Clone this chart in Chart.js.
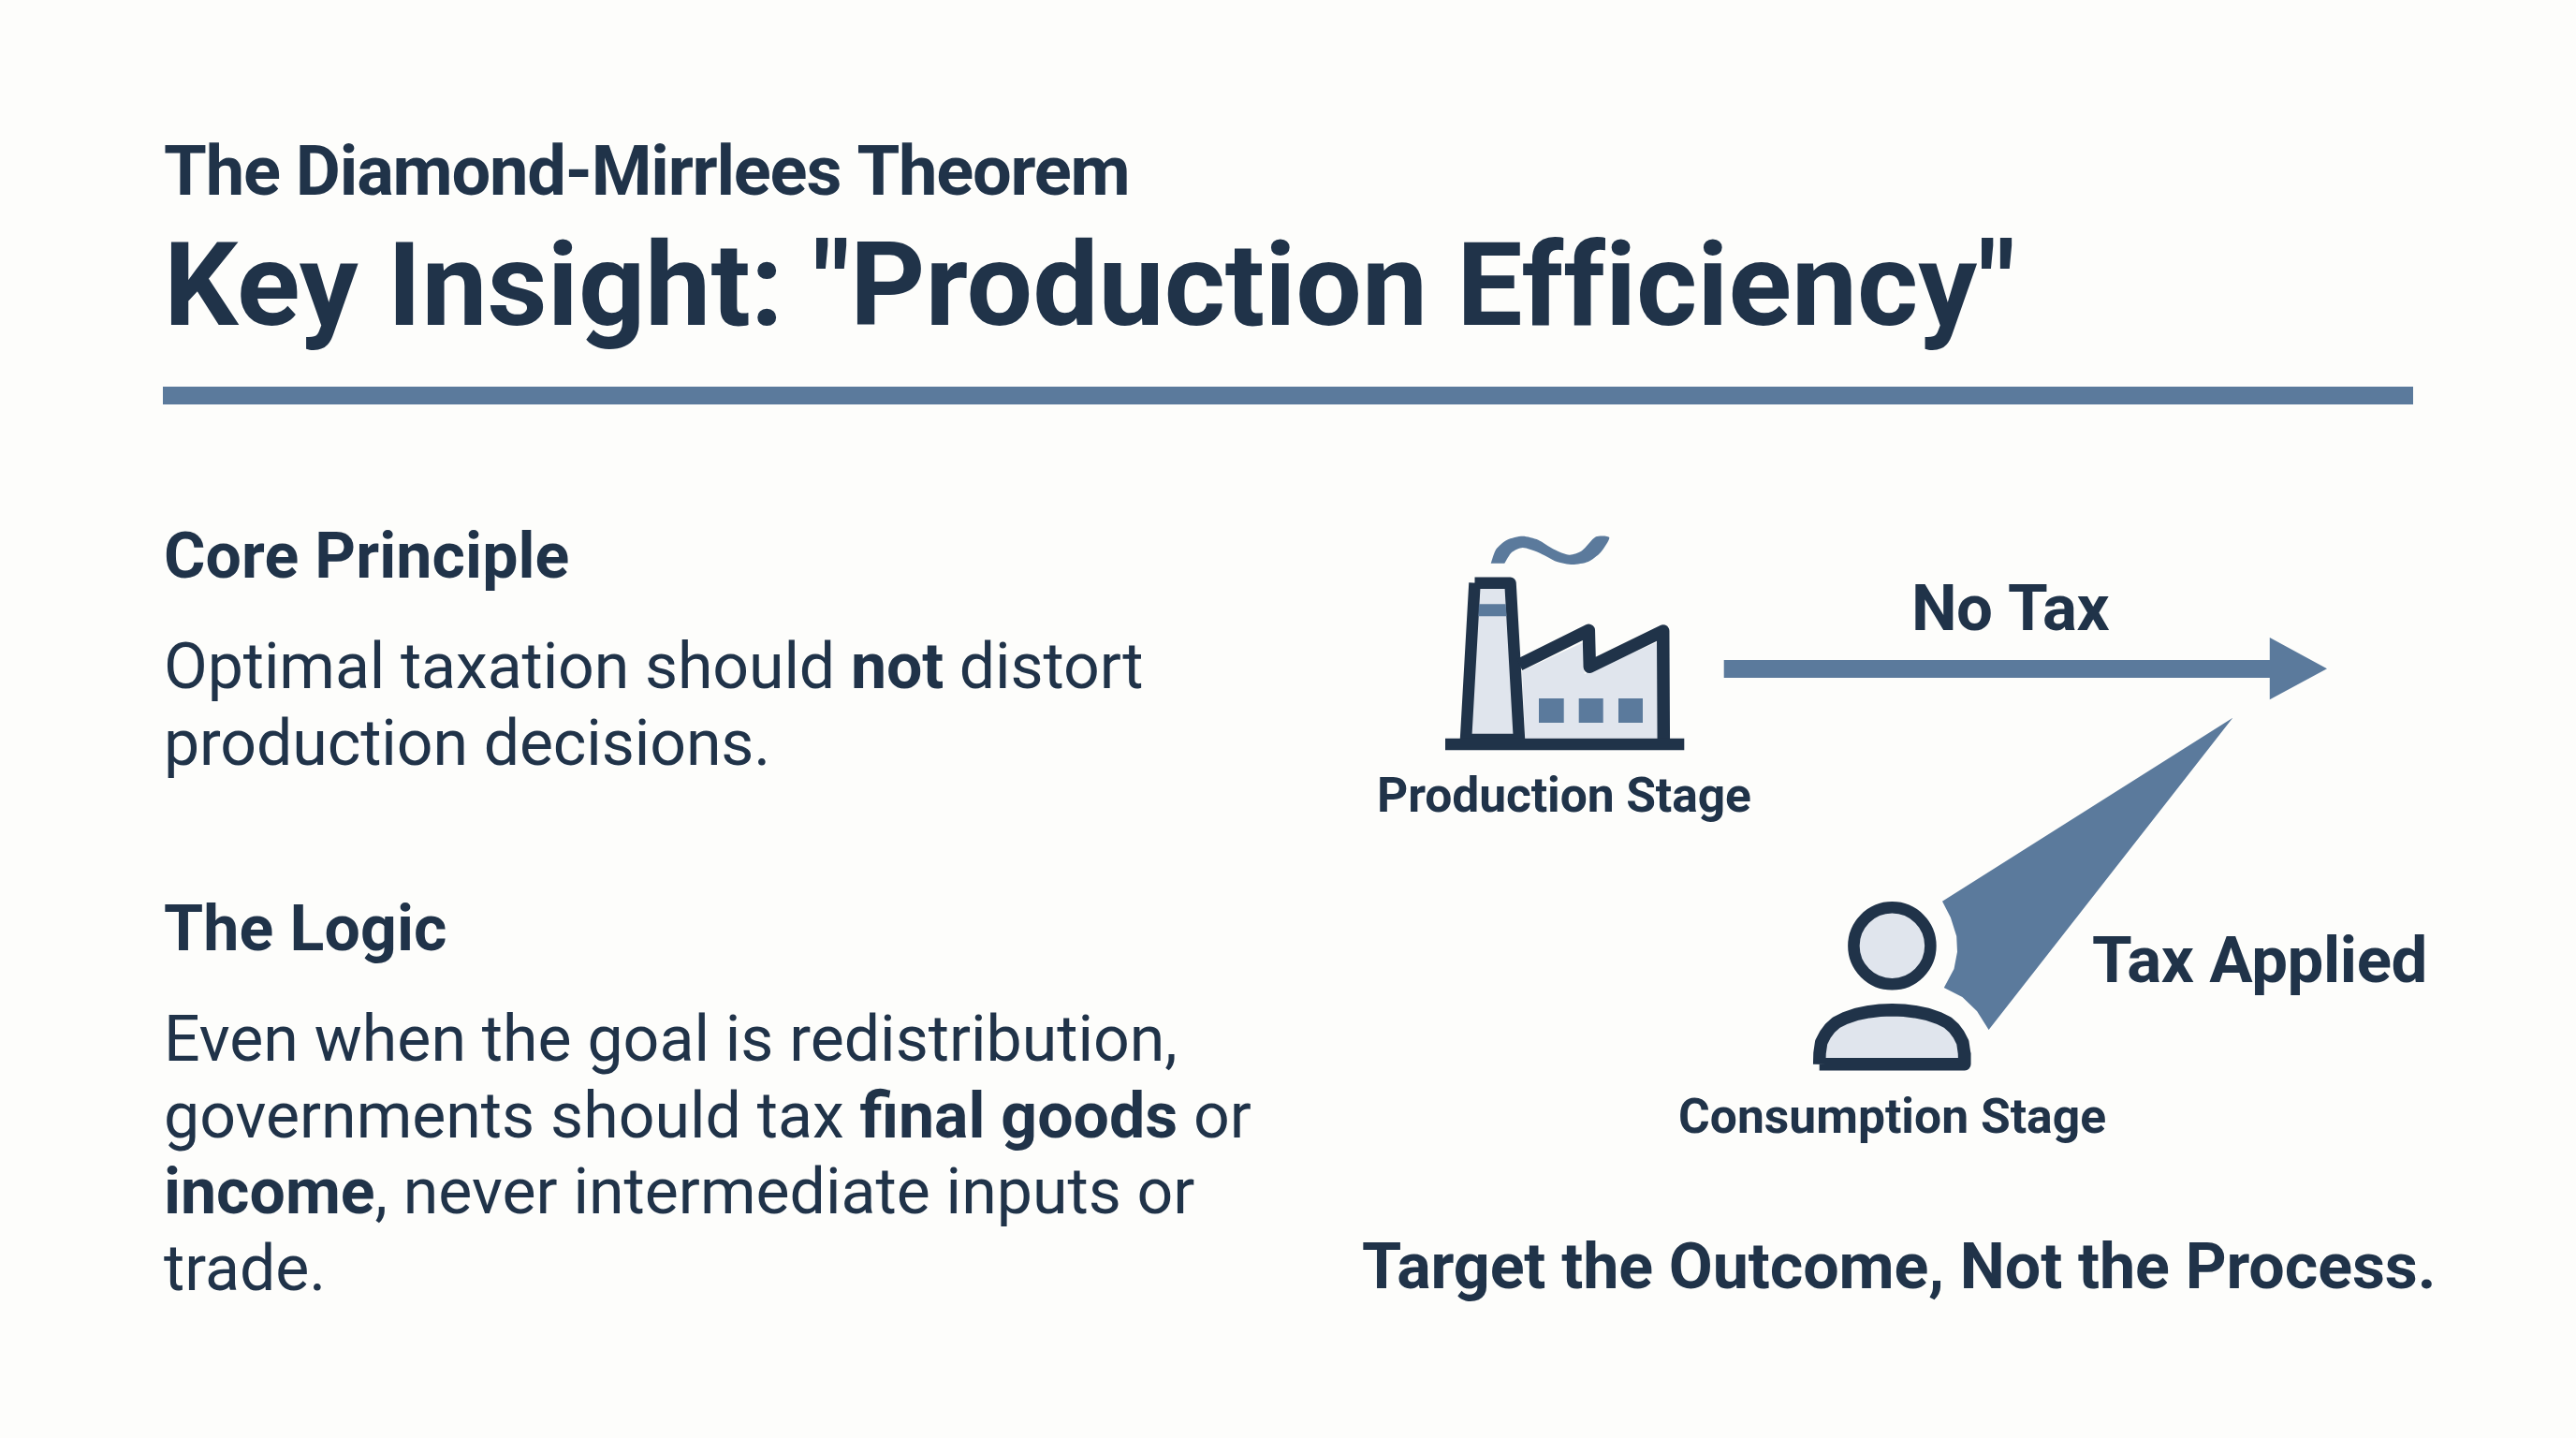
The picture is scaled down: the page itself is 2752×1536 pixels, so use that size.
<!DOCTYPE html>
<html><head><meta charset="utf-8">
<style>html,body{margin:0;padding:0;background:#fdfdfb}canvas{display:block}</style>
<script src="https://cdn.jsdelivr.net/npm/chart.js@4/dist/chart.umd.js"></script>
</head><body><div style="width:2752px;height:1536px"><canvas id="c"></canvas></div>
<script>
// text
const eyebrow = "The Diamond-Mirrlees Theorem";
const headline = 'Key Insight: "Production Efficiency"';
const sectionOne = "Core Principle";
const sectionOneLines = [[["Optimal taxation should ",0],["not",1],[" distort",0]],[["production decisions.",0]]];
const sectionTwo = "The Logic";
const sectionTwoLines = [[["Even when the goal is redistribution,",0]],[["governments should tax ",0],["final goods",1],[" or",0]],[["income",1],[", never intermediate inputs or",0]],[["trade.",0]]];
const labelProduction = "Production Stage";
const labelConsumption = "Consumption Stage";
const labelNoTax = "No Tax";
const labelTaxApplied = "Tax Applied";
const closingLine = "Target the Outcome, Not the Process.";

const DARK = "#203349", BLUE = "#5b7a9c", PALE = "#e0e5ed";

// diagram outlines
const ruleShape = [[174,413],[2578,413],[2578,432],[174,432]];
const smoke = [[1592.7,601.7],[1598.3,586.7],[1610,576.7],[1626.7,572.7],[1643.3,576.7],[1660,586.7],[1676.7,592.7],[1690,588.3],[1705,573.3],[1719.3,574],[1710,590],[1696.7,600],[1680,603],[1663.3,600],[1643.3,590],[1626.7,585],[1615,590],[1607.3,601.7]];
const chimney = [[1575.5,622.7],[1613.5,622.7],[1623,790],[1566,790],[1575.5,622.7]];
const chimneyBand = [[1580,645.3],[1608.7,645.3],[1609.5,658.3],[1579.4,658.3]];
const buildingFill = [[1626,716.7],[1691.7,686],[1692.7,720],[1770,686],[1771,788.7],[1629.3,788.7]];
const buildingRoof = [[1623.3,710],[1697.3,673.3],[1698.3,712.3],[1776.7,674],[1777.3,790]];
const windowOne = [[1644,746],[1670.7,746],[1670.7,772],[1644,772]];
const windowTwo = [[1686.7,746],[1712.7,746],[1712.7,772],[1686.7,772]];
const windowThree = [[1729,746],[1755,746],[1755,772],[1729,772]];
const factoryBase = [[1544,788.7],[1799.3,788.7],[1799.3,801.3],[1544,801.3]];
const arrowShape = [[1841.7,705],[2424.8,705],[2424.8,681],[2486,714.3],[2424.8,747.3],[2424.8,724],[1841.7,724]];
const wedge = [[2385.3,766.7],[2075,962.7],[2083.9,980],[2090.2,1000],[2091,1016.7],[2087.5,1035],[2076.8,1055],[2096.4,1065],[2112,1080],[2124.6,1100]];
const personHead = [[2021.4,1010.3]];
const personBody = [[1943.7,1136.8],[1944,1125],[1945.7,1113.3],[1950,1105],[1955,1098.3],[1961.7,1092.3],[1971.7,1087.3],[1983.3,1083.3],[1996.7,1080.7],[2008.3,1079.3],[2021.3,1078.7],[2034.2,1079.3],[2045.8,1080.7],[2059.2,1083.3],[2070.8,1087.3],[2080.8,1092.3],[2087.5,1098.3],[2092.5,1105],[2096.8,1113.3],[2098.5,1125],[2098.8,1136.8],[1943.7,1136.8]];

const pts = a => a.map(([x,y]) => ({x,y}));
const poly = (a,color,extra={}) => ({data:pts(a),showLine:true,fill:'shape',backgroundColor:color,borderColor:color,borderWidth:0,pointRadius:0,tension:0,...extra});

const layers = [
  poly(ruleShape,BLUE),
  poly(smoke,BLUE,{tension:0.25}),
  poly(buildingFill,PALE),
  poly(chimney,PALE,{borderColor:DARK,borderWidth:12.5,borderJoinStyle:'round'}),
  poly(chimneyBand,BLUE),
  {data:pts(buildingRoof),showLine:true,fill:false,borderColor:DARK,borderWidth:13.5,borderJoinStyle:'round',borderCapStyle:'butt',pointRadius:0,tension:0},
  poly(windowOne,BLUE),poly(windowTwo,BLUE),poly(windowThree,BLUE),
  poly(factoryBase,DARK),
  poly(arrowShape,BLUE),
  poly(wedge,BLUE),
  {data:pts(personHead),showLine:false,pointRadius:41,pointBorderWidth:12.5,pointBackgroundColor:PALE,pointBorderColor:DARK,pointHoverRadius:41},
  poly(personBody,PALE,{borderColor:DARK,borderWidth:13.5,borderJoinStyle:'round'})
];

const FONT = "Roboto, 'Noto Sans', sans-serif";
function runs(ctx,x,y,size,parts,spacing,wReg=400,wBold=700){
  ctx.letterSpacing = spacing+"px";
  for(const [t,b] of parts){
    ctx.font = `${b?wBold:wReg} ${size}px ${FONT}`;
    ctx.fillText(t,x,y);
    x += ctx.measureText(t).width;
  }
}
const textPlugin = {id:'slideText',afterDatasetsDraw(chart){
  const ctx = chart.ctx; ctx.save();
  ctx.fillStyle = DARK; ctx.textBaseline='alphabetic'; ctx.textAlign='left';
  runs(ctx,175,208,74,[[eyebrow,1]],-1.2);
  runs(ctx,175,347,125,[[headline,1]],0.05);
  runs(ctx,175,616.7,68,[[sectionOne,1]],0.1);
  sectionOneLines.forEach((l,i)=>runs(ctx,175,735+i*82,68,l,-0.1));
  runs(ctx,175,1015,68,[[sectionTwo,1]],0.15);
  sectionTwoLines.forEach((l,i)=>runs(ctx,175,1133+i*81.7,68,l,0));
  runs(ctx,1471,866.7,51.6,[[labelProduction,1]],-0.1);
  runs(ctx,1793,1210,51.6,[[labelConsumption,1]],0);
  runs(ctx,2042,672.7,69,[[labelNoTax,1]],-0.6);
  runs(ctx,2235,1049.3,69,[[labelTaxApplied,1]],-0.4);
  runs(ctx,1455,1375.5,68.2,[[closingLine,1]],-0.1);
  ctx.restore();
}};

new Chart(document.getElementById('c'),{
  type:'scatter',
  data:{datasets:layers.slice().reverse()},
  options:{responsive:true,maintainAspectRatio:false,devicePixelRatio:1,animation:false,
    layout:{padding:0,autoPadding:false},
    plugins:{legend:{display:false},tooltip:{enabled:false},title:{display:false}},
    scales:{x:{type:'linear',min:0,max:2752,display:false},y:{type:'linear',min:0,max:1536,reverse:true,display:false}}
  },
  plugins:[textPlugin]
});
</script></body></html>
